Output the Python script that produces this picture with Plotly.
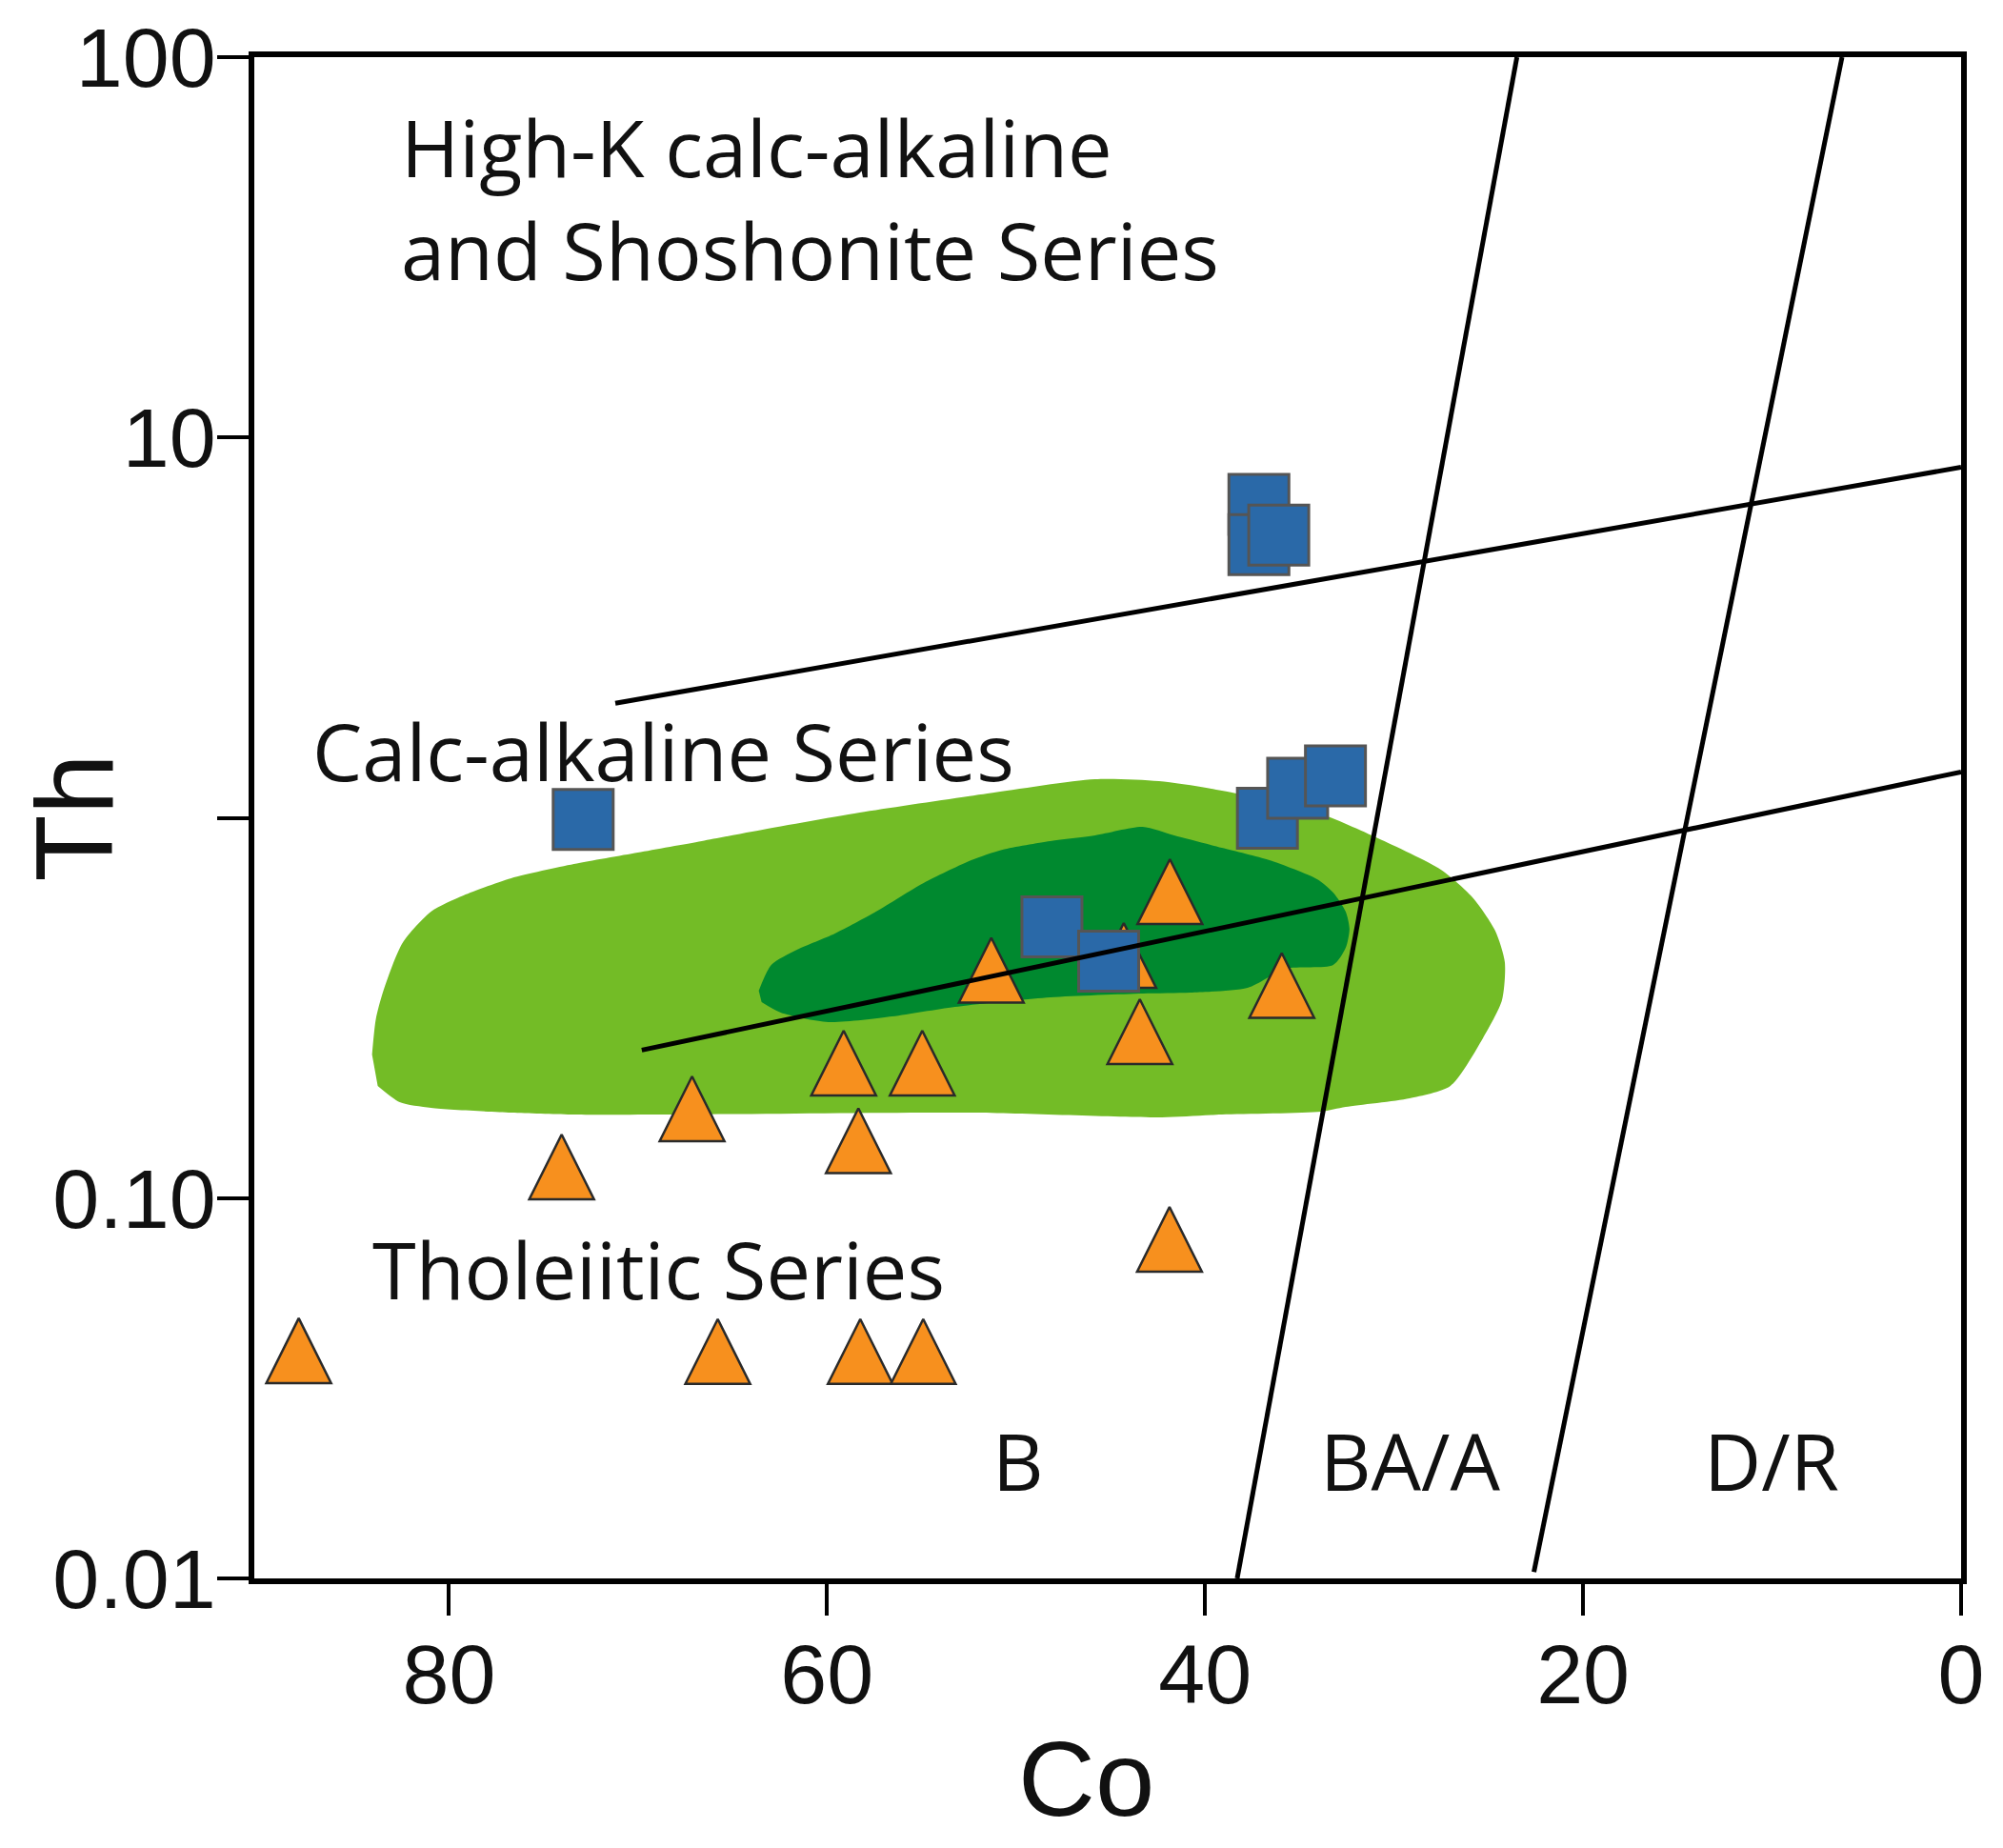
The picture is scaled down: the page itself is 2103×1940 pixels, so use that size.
import numpy as np
import plotly.graph_objects as go

# ---------------- data (Co, Th) ----------------
# light green field (outer)
light_co = [84.07, 83.87, 83.47, 82.46, 80.95, 79.23, 76.71, 73.39, 70.01, 66.63, 63.96, 58.27,
            51.51, 45.82, 42.44, 39.11, 34.07, 30.85, 27.52, 25.81, 24.65, 24.14, 24.29, 25.30,
            27.02, 29.18, 32.56, 33.87, 39.11, 42.29, 52.37, 68.35, 73.54, 76.71, 80.95, 82.61, 83.77]
light_th = [0.2385, 0.2954, 0.3511, 0.4685, 0.5666, 0.6250, 0.6934, 0.7558, 0.8100, 0.8683, 0.9198, 1.032,
            1.158, 1.263, 1.248, 1.179, 1.032, 0.8834, 0.7302, 0.6143, 0.5049, 0.4174, 0.3314, 0.2632,
            0.1972, 0.1830, 0.1737, 0.1688, 0.1659, 0.1631, 0.1678, 0.1659, 0.1659, 0.1678, 0.1727, 0.1788, 0.1972]

# dark green field (inner)
dark_co = [63.61, 62.95, 61.59, 59.58, 57.41, 54.89, 52.37, 50.71, 48.19, 45.82, 43.30, 41.63,
           39.11, 36.59, 34.07, 33.22, 32.56, 32.36, 32.56, 33.22, 35.74, 37.75, 40.78, 43.30,
           48.19, 53.23, 56.55, 59.93, 62.45, 63.46]
dark_th = [0.3511, 0.4102, 0.4498, 0.4963, 0.5666, 0.6737, 0.7735, 0.8244, 0.8683, 0.8989, 0.9467, 0.8989,
           0.8340, 0.7735, 0.6894, 0.6359, 0.5666, 0.5108, 0.4550, 0.4102, 0.4009, 0.3571, 0.3470, 0.3450,
           0.3371, 0.3183, 0.3004, 0.2903, 0.3075, 0.3276]

# samples
tri_co = [87.95, 74.04, 67.14, 65.78, 59.12, 58.34, 58.24, 54.96, 54.91, 51.31, 44.30, 43.45, 41.86, 41.88, 35.94]
tri_th = [0.0397, 0.1208, 0.1717, 0.0395, 0.2265, 0.1416, 0.0395, 0.2265, 0.0395, 0.3973, 0.4346, 0.274, 0.6396, 0.0779, 0.3623]

sq_co = [72.9, 48.1, 45.1, 37.15, 37.15, 36.1, 36.7, 35.1, 33.1]
sq_th = [0.99, 0.517, 0.420, 6.67, 5.23, 5.54, 0.997, 1.196, 1.289]

# boundary lines
upper_co, upper_th = [71.2, 0.0], [2.0, 8.35]
lower_co, lower_th = [69.8, 0.0], [0.245, 1.32]
steep1_co, steep1_th = [38.3, 23.5], [0.01, 100]
steep2_co, steep2_th = [22.6, 6.3], [0.0104, 100]

# ticks
x_ticks = [80, 60, 40, 20, 0]
y_ticks = [100, 10, 1, 0.1, 0.01]
y_ticktext = ["100", "10", "", "0.10", "0.01"]

# field labels: (text, Co, Th, anchor)
labels = [
    ("High-K calc-alkaline<br>and Shoshonite Series", 82.66, 42.6, "left"),
    ("Calc-alkaline Series", 87.35, 1.502, "left"),
    ("Tholeiitic Series", 84.17, 0.0655, "left"),
    ("B", 49.9, 0.02056, "center"),
    ("BA/A", 29.13, 0.02056, "center"),
    ("D/R", 10.03, 0.02056, "center"),
]

FONT = "Open Sans"
AXFONT = "Liberation Sans"
fig = go.Figure()

fig.add_trace(go.Scatter(x=light_co, y=light_th, mode="lines", fill="toself",
                         fillcolor="#73BC26", line=dict(width=0, shape="spline", smoothing=0.7),
                         hoverinfo="skip", showlegend=False))
fig.add_trace(go.Scatter(x=dark_co, y=dark_th, mode="lines", fill="toself",
                         fillcolor="#00892F", line=dict(width=0, shape="spline", smoothing=0.7),
                         hoverinfo="skip", showlegend=False))

tri_size = 68
fig.add_trace(go.Scatter(x=tri_co, y=tri_th, mode="markers", showlegend=False,
                         marker=dict(symbol="arrow-down", angle=180, standoff=tri_size / 2,
                                     size=tri_size, color="#F7901E",
                                     line=dict(color="#2a2a2a", width=2.5))))
fig.add_trace(go.Scatter(x=sq_co, y=sq_th, mode="markers", showlegend=False,
                         marker=dict(symbol="square", size=63, color="#2A69A8",
                                     line=dict(color="#555555", width=3))))

for cx, cy in [(upper_co, upper_th), (lower_co, lower_th), (steep1_co, steep1_th), (steep2_co, steep2_th)]:
    fig.add_trace(go.Scatter(x=cx, y=cy, mode="lines", showlegend=False,
                             line=dict(color="black", width=5), hoverinfo="skip"))

for text, lx, ly, anc in labels:
    fig.add_annotation(x=lx, y=np.log10(ly), xref="x", yref="y", text=text, showarrow=False,
                       xanchor=anc, yanchor="middle", align="left",
                       font=dict(family=FONT, size=83, color="#111111"))

fig.add_annotation(x=-0.1055, y=0.5, xref="paper", yref="paper", text="Th", textangle=-90,
                   showarrow=False, xanchor="center", yanchor="middle",
                   font=dict(family=AXFONT, size=115, color="#111111"))
fig.add_annotation(x=0.4877, y=-0.1321, xref="paper", yref="paper", text="Co",
                   showarrow=False, xanchor="center", yanchor="middle",
                   font=dict(family=AXFONT, size=112, color="#111111"))

axis_common = dict(showline=True, linewidth=5.5, linecolor="black", mirror=True,
                   ticks="outside", ticklen=33, tickwidth=4, tickcolor="black",
                   showgrid=False, zeroline=False, automargin=False,
                   ticklabeloverflow="allow",
                   tickfont=dict(family=AXFONT, size=88, color="#111111"))

# the page body adds an 8px offset, so the figure is 16px smaller and margins shifted
fig.update_layout(
    width=2087, height=1924,
    margin=dict(l=259, r=36, t=52, b=275),
    paper_bgcolor="white", plot_bgcolor="white",
    xaxis=dict(range=[90.3, 0], tickvals=x_ticks, ticktext=[str(v) for v in x_ticks],
               ticklabelstandoff=-13, **axis_common),
    yaxis=dict(type="log", range=[-2, 2], tickvals=y_ticks, ticktext=y_ticktext,
               ticklabelstandoff=-16, **axis_common),
)

fig.write_html("out.html")
